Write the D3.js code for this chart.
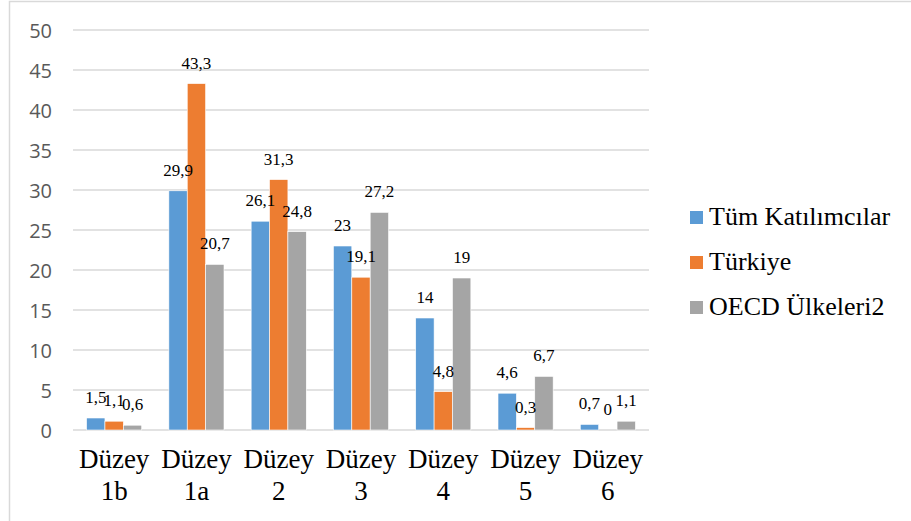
<!DOCTYPE html>
<html>
<head>
<meta charset="utf-8">
<script src="https://cdn.jsdelivr.net/npm/d3@7"></script>
<style>
  html, body { margin: 0; padding: 0; background: #fff; }
  svg { display: block; }
  .serif { font-family: "Liberation Serif", "DejaVu Serif", "Times New Roman", serif; }
  .sans { font-family: "Open Sans", "Noto Sans", sans-serif; }
</style>
</head>
<body>
<svg id="chart" width="911" height="521"></svg>
<script>
// Proficiency levels and share of students per level (%)
const categories = ["Düzey 1b", "Düzey 1a", "Düzey 2", "Düzey 3", "Düzey 4", "Düzey 5", "Düzey 6"];
const seriesNames = ["Tüm Katılımcılar", "Türkiye", "OECD Ülkeleri2"];
const tumKatilimcilar = [1.5, 29.9, 26.1, 23, 14, 4.6, 0.7];
const turkiye = [1.1, 43.3, 31.3, 19.1, 4.8, 0.3, 0];
const oecd = [0.6, 20.7, 24.8, 27.2, 19, 6.7, 1.1];
const yTicks = [0, 5, 10, 15, 20, 25, 30, 35, 40, 45, 50];
const colors = ["#5B9BD5", "#ED7D31", "#A5A5A5"];

const seriesValues = [tumKatilimcilar, turkiye, oecd];

const svg = d3.select("#chart");

// outer chart frame
svg.append("rect")
  .attr("x", 9.5).attr("y", 1.5)
  .attr("width", 920).attr("height", 540)
  .attr("fill", "none").attr("stroke", "#D9D9D9").attr("stroke-width", 1.5);

const plot = { left: 73, right: 649, top: 30, bottom: 430 };

const x = d3.scaleBand().domain(categories).range([plot.left, plot.right]).paddingInner(0.33).paddingOuter(0.165);
const xs = d3.scaleBand().domain(seriesNames).range([0, x.bandwidth()]);
const y = d3.scaleLinear().domain([0, 50]).range([plot.bottom, plot.top]);

// gridlines
svg.append("g")
  .selectAll("line")
  .data(yTicks)
  .join("line")
  .attr("x1", plot.left).attr("x2", plot.right)
  .attr("y1", d => y(d)).attr("y2", d => y(d))
  .attr("stroke", "#D9D9D9").attr("stroke-width", 1.5);

// y axis labels
const yAxis = d3.axisLeft(y).tickValues(yTicks).tickSize(0).tickPadding(0);
const yg = svg.append("g").attr("transform", `translate(${plot.left - 21},0)`).call(yAxis);
yg.select(".domain").remove();
yg.attr("font-family", null).attr("font-size", null);
yg.selectAll("text")
  .attr("class", "sans")
  .style("font-size", "20px")
  .attr("fill", "#595959")
  .attr("dy", "0.36em");

// flatten series into one list of bar records
const records = [];
seriesNames.forEach((name, i) => {
  seriesValues[i].forEach((v, j) => records.push({ name, i, cat: categories[j], v }));
});

// bars
svg.append("g")
  .selectAll("rect")
  .data(records)
  .join("rect")
  .attr("x", d => x(d.cat) + xs(d.name))
  .attr("width", xs.bandwidth())
  .attr("y", d => y(d.v))
  .attr("height", d => y(0) - y(d.v))
  .attr("fill", d => colors[d.i])
  .attr("stroke", "#fff").attr("stroke-width", 0.6);

// value labels, drawn above every bar
const fmt = v => String(v).replace(".", ",");
svg.append("g")
  .selectAll("text")
  .data(records)
  .join("text")
  .attr("class", "serif")
  .attr("x", d => x(d.cat) + xs(d.name) + xs.bandwidth() / 2)
  .attr("y", d => y(d.v) - 15)
  .attr("text-anchor", "middle")
  .style("font-size", "17px")
  .attr("fill", "#000")
  .text(d => fmt(d.v));

// category labels (two lines)
const xl = svg.append("g")
  .selectAll("text")
  .data(categories)
  .join("text")
  .attr("class", "serif")
  .attr("x", d => x(d) + x.bandwidth() / 2)
  .attr("y", 468)
  .attr("text-anchor", "middle")
  .style("font-size", "27px")
  .attr("fill", "#000");
xl.each(function(d) {
  const parts = d.split(" ");
  const t = d3.select(this);
  t.append("tspan").attr("x", x(d) + x.bandwidth() / 2).text(parts[0]);
  t.append("tspan").attr("x", x(d) + x.bandwidth() / 2).attr("dy", 32).text(parts[1]);
});

// legend
const legend = svg.append("g")
  .selectAll("g")
  .data(seriesNames)
  .join("g")
  .attr("transform", (d, i) => `translate(690,${217 + i * 45})`);
legend.append("rect")
  .attr("x", 0).attr("y", -6).attr("width", 13).attr("height", 13)
  .attr("fill", (d, i) => colors[i]);
legend.append("text")
  .attr("class", "serif")
  .attr("x", 19).attr("y", 8)
  .style("font-size", "26px")
  .attr("fill", "#000")
  .text(d => d);
</script>
</body>
</html>
